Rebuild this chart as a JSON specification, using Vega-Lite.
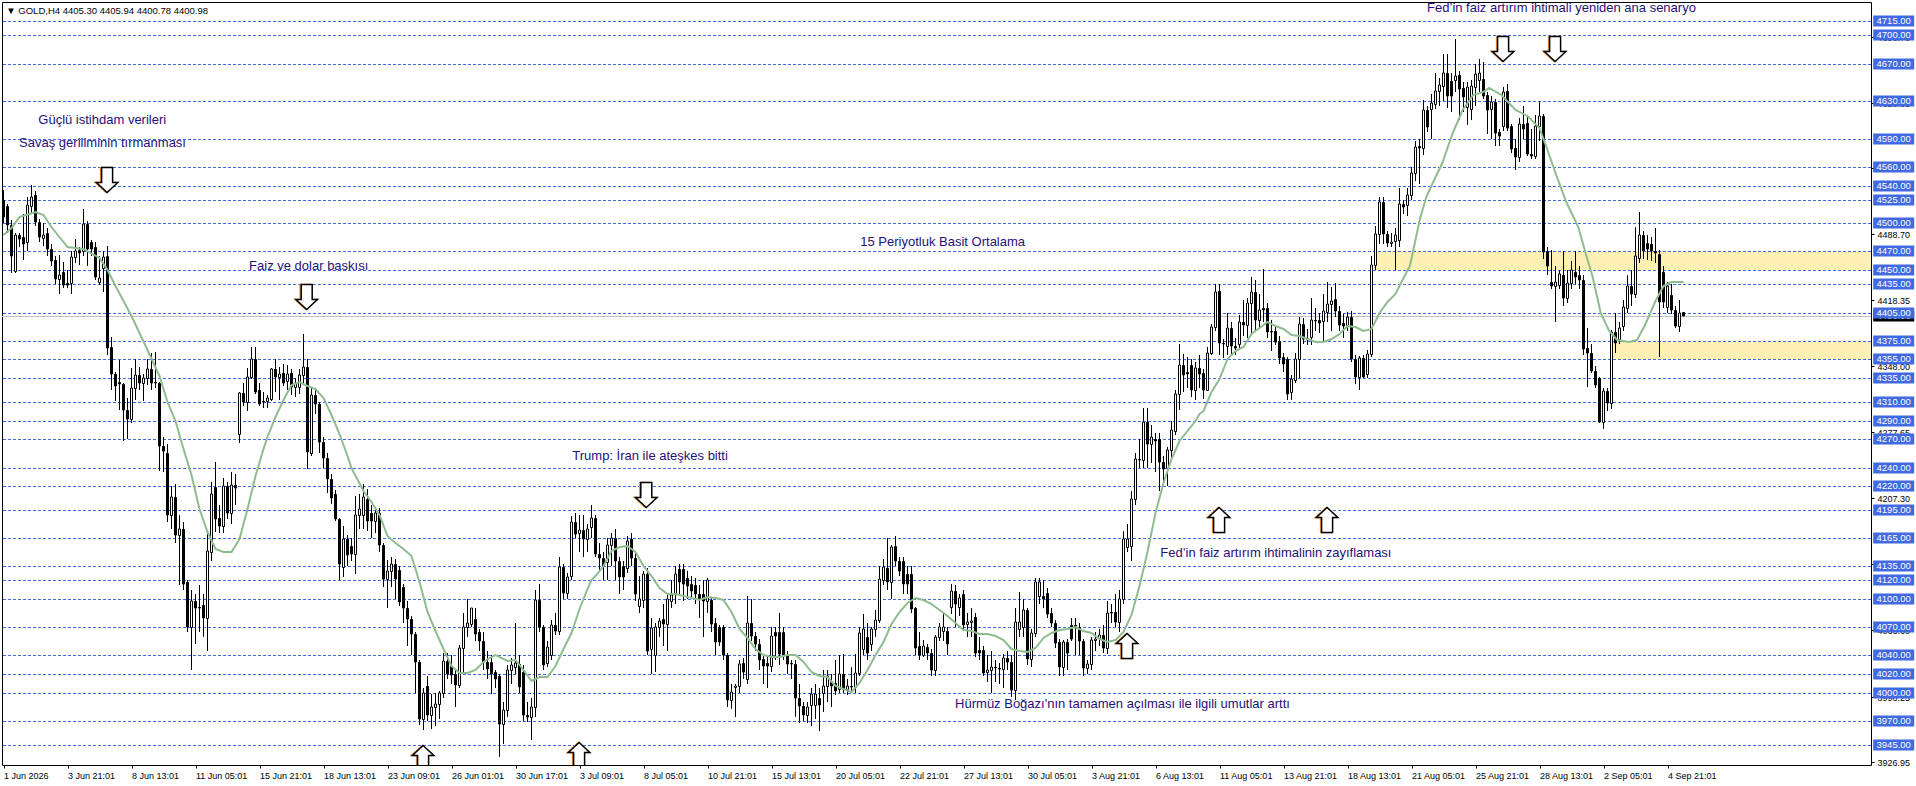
{
"$schema":"https://vega.github.io/schema/vega-lite/v6.json",
"description":"GOLD H4 candlestick chart with support and resistance levels and notes.",
"width":1869,"height":763,
"autosize":{"type":"none"},
"padding":{"left":2,"top":2,"right":45,"bottom":21},
"background":"#ffffff",
"config":{"view":{"stroke":"#000000","strokeWidth":1},"text":{"font":"Liberation Sans"}},
"datasets":{
"zones":[{"start":342.7,"low":4450,"high":4470},{"start":402.4,"low":4355,"high":4375}],
"levels":[{"v":4715},{"v":4700},{"v":4670},{"v":4630},{"v":4590},{"v":4560},{"v":4540},{"v":4525},{"v":4500},{"v":4470},{"v":4450},{"v":4435},{"v":4405},{"v":4375},{"v":4355},{"v":4335},{"v":4310},{"v":4290},{"v":4270},{"v":4240},{"v":4220},{"v":4195},{"v":4165},{"v":4135},{"v":4120},{"v":4100},{"v":4070},{"v":4040},{"v":4020},{"v":4000},{"v":3970},{"v":3945}],
"bid":[{"v":4400.98}],
"candles":[
{"i":0,"o":4525,"h":4535,"l":4500,"c":4507},{"i":1,"o":4518,"h":4520,"l":4490,"c":4498},{"i":2,"o":4498,"h":4503,"l":4447,"c":4465},{"i":3,"o":4449,"h":4490,"l":4447,"c":4488},{"i":4,"o":4487,"h":4490,"l":4475,"c":4483},{"i":5,"o":4485,"h":4510,"l":4461,"c":4478},{"i":6,"o":4480,"h":4528,"l":4470,"c":4519},{"i":7,"o":4518,"h":4541,"l":4510,"c":4528},{"i":8,"o":4530,"h":4534,"l":4497,"c":4501},{"i":9,"o":4501,"h":4505,"l":4480,"c":4485},
{"i":10,"o":4484,"h":4500,"l":4476,"c":4487},{"i":11,"o":4490,"h":4495,"l":4465,"c":4473},{"i":12,"o":4473,"h":4478,"l":4455,"c":4460},{"i":13,"o":4461,"h":4465,"l":4435,"c":4441},{"i":14,"o":4441,"h":4466,"l":4425,"c":4445},{"i":15,"o":4448,"h":4459,"l":4431,"c":4434},{"i":16,"o":4436,"h":4450,"l":4431,"c":4434},{"i":17,"o":4436,"h":4470,"l":4425,"c":4464},{"i":18,"o":4464,"h":4483,"l":4458,"c":4470},{"i":19,"o":4472,"h":4475,"l":4456,"c":4468},
{"i":20,"o":4470,"h":4515,"l":4465,"c":4499},{"i":21,"o":4499,"h":4502,"l":4455,"c":4473},{"i":22,"o":4480,"h":4482,"l":4465,"c":4473},{"i":23,"o":4475,"h":4480,"l":4440,"c":4443},{"i":24,"o":4437,"h":4465,"l":4434,"c":4442},{"i":25,"o":4452,"h":4470,"l":4427,"c":4464},{"i":26,"o":4465,"h":4476,"l":4360,"c":4367},{"i":27,"o":4368,"h":4379,"l":4322,"c":4340},{"i":28,"o":4340,"h":4342,"l":4311,"c":4327},{"i":29,"o":4331,"h":4354,"l":4301,"c":4329},
{"i":30,"o":4329,"h":4330,"l":4268,"c":4301},{"i":31,"o":4301,"h":4314,"l":4270,"c":4292},{"i":32,"o":4292,"h":4346,"l":4287,"c":4325},{"i":33,"o":4325,"h":4355,"l":4312,"c":4338},{"i":34,"o":4338,"h":4347,"l":4322,"c":4330},{"i":35,"o":4330,"h":4340,"l":4311,"c":4335},{"i":36,"o":4335,"h":4355,"l":4328,"c":4345},{"i":37,"o":4345,"h":4362,"l":4322,"c":4330},{"i":38,"o":4331,"h":4363,"l":4325,"c":4330},{"i":39,"o":4330,"h":4331,"l":4236,"c":4263},
{"i":40,"o":4263,"h":4273,"l":4235,"c":4258},{"i":41,"o":4256,"h":4265,"l":4182,"c":4189},{"i":42,"o":4189,"h":4220,"l":4175,"c":4209},{"i":43,"o":4209,"h":4222,"l":4160,"c":4168},{"i":44,"o":4168,"h":4190,"l":4115,"c":4175},{"i":45,"o":4175,"h":4182,"l":4110,"c":4116},{"i":46,"o":4118,"h":4120,"l":4065,"c":4070},{"i":47,"o":4070,"h":4110,"l":4024,"c":4098},{"i":48,"o":4098,"h":4105,"l":4052,"c":4091},{"i":49,"o":4092,"h":4115,"l":4065,"c":4091},
{"i":50,"o":4094,"h":4105,"l":4060,"c":4080},{"i":51,"o":4080,"h":4170,"l":4045,"c":4151},{"i":52,"o":4150,"h":4225,"l":4140,"c":4212},{"i":53,"o":4219,"h":4246,"l":4171,"c":4185},{"i":54,"o":4186,"h":4200,"l":4170,"c":4178},{"i":55,"o":4178,"h":4229,"l":4170,"c":4220},{"i":56,"o":4220,"h":4225,"l":4185,"c":4192},{"i":57,"o":4192,"h":4235,"l":4180,"c":4221},{"i":58,"o":4221,"h":4233,"l":4200,"c":4218},{"i":59,"o":4276,"h":4320,"l":4266,"c":4319},
{"i":60,"o":4319,"h":4330,"l":4306,"c":4310},{"i":61,"o":4310,"h":4346,"l":4300,"c":4336},{"i":62,"o":4336,"h":4368,"l":4334,"c":4356},{"i":63,"o":4356,"h":4368,"l":4318,"c":4320},{"i":64,"o":4322,"h":4330,"l":4305,"c":4308},{"i":65,"o":4311,"h":4320,"l":4303,"c":4310},{"i":66,"o":4311,"h":4317,"l":4303,"c":4314},{"i":67,"o":4313,"h":4346,"l":4311,"c":4345},{"i":68,"o":4345,"h":4356,"l":4320,"c":4336},{"i":69,"o":4336,"h":4347,"l":4312,"c":4340},
{"i":70,"o":4341,"h":4350,"l":4327,"c":4330},{"i":71,"o":4332,"h":4349,"l":4322,"c":4340},{"i":72,"o":4341,"h":4345,"l":4317,"c":4326},{"i":73,"o":4326,"h":4335,"l":4315,"c":4330},{"i":74,"o":4326,"h":4345,"l":4318,"c":4338},{"i":75,"o":4338,"h":4382,"l":4330,"c":4347},{"i":76,"o":4347,"h":4355,"l":4238,"c":4257},{"i":77,"o":4256,"h":4325,"l":4252,"c":4317},{"i":78,"o":4317,"h":4325,"l":4297,"c":4308},{"i":79,"o":4308,"h":4310,"l":4255,"c":4267},
{"i":80,"o":4267,"h":4272,"l":4240,"c":4250},{"i":81,"o":4250,"h":4255,"l":4213,"c":4228},{"i":82,"o":4228,"h":4233,"l":4201,"c":4208},{"i":83,"o":4212,"h":4216,"l":4183,"c":4185},{"i":84,"o":4185,"h":4186,"l":4120,"c":4137},{"i":85,"o":4134,"h":4178,"l":4124,"c":4164},{"i":86,"o":4164,"h":4168,"l":4135,"c":4147},{"i":87,"o":4156,"h":4165,"l":4140,"c":4148},{"i":88,"o":4148,"h":4210,"l":4127,"c":4189},{"i":89,"o":4189,"h":4212,"l":4175,"c":4196},
{"i":90,"o":4189,"h":4222,"l":4175,"c":4209},{"i":91,"o":4206,"h":4217,"l":4172,"c":4183},{"i":92,"o":4192,"h":4200,"l":4165,"c":4183},{"i":93,"o":4183,"h":4198,"l":4170,"c":4192},{"i":94,"o":4192,"h":4197,"l":4150,"c":4158},{"i":95,"o":4158,"h":4160,"l":4113,"c":4121},{"i":96,"o":4121,"h":4142,"l":4090,"c":4130},{"i":97,"o":4130,"h":4145,"l":4113,"c":4137},{"i":98,"o":4137,"h":4143,"l":4100,"c":4121},{"i":99,"o":4131,"h":4135,"l":4093,"c":4097},
{"i":100,"o":4113,"h":4116,"l":4075,"c":4091},{"i":101,"o":4091,"h":4098,"l":4050,"c":4079},{"i":102,"o":4079,"h":4082,"l":4040,"c":4063},{"i":103,"o":4063,"h":4065,"l":4000,"c":4033},{"i":104,"o":4033,"h":4035,"l":3966,"c":3972},{"i":105,"o":3972,"h":4005,"l":3961,"c":4000},{"i":106,"o":4007,"h":4018,"l":3970,"c":3977},{"i":107,"o":3977,"h":3999,"l":3962,"c":3985},{"i":108,"o":3985,"h":4000,"l":3965,"c":3988},{"i":109,"o":3988,"h":4002,"l":3972,"c":4000},
{"i":110,"o":4000,"h":4043,"l":3995,"c":4034},{"i":111,"o":4034,"h":4043,"l":4015,"c":4020},{"i":112,"o":4029,"h":4040,"l":4010,"c":4019},{"i":113,"o":4020,"h":4025,"l":3985,"c":4009},{"i":114,"o":4009,"h":4051,"l":4005,"c":4048},{"i":115,"o":4048,"h":4085,"l":4020,"c":4070},{"i":116,"o":4070,"h":4100,"l":4060,"c":4075},{"i":117,"o":4073,"h":4091,"l":4070,"c":4090},{"i":118,"o":4079,"h":4090,"l":4055,"c":4063},{"i":119,"o":4065,"h":4068,"l":4045,"c":4055},
{"i":120,"o":4055,"h":4065,"l":4025,"c":4033},{"i":121,"o":4033,"h":4045,"l":4015,"c":4026},{"i":122,"o":4033,"h":4040,"l":3999,"c":4020},{"i":123,"o":4022,"h":4025,"l":4005,"c":4015},{"i":124,"o":4018,"h":4020,"l":3932,"c":3967},{"i":125,"o":3967,"h":3990,"l":3946,"c":3982},{"i":126,"o":3982,"h":4030,"l":3975,"c":4024},{"i":127,"o":4024,"h":4037,"l":4010,"c":4030},{"i":128,"o":4028,"h":4075,"l":4020,"c":4032},{"i":129,"o":4031,"h":4040,"l":4000,"c":4006},
{"i":130,"o":4022,"h":4030,"l":3970,"c":3977},{"i":131,"o":3977,"h":3990,"l":3969,"c":3975},{"i":132,"o":3975,"h":3995,"l":3950,"c":3985},{"i":133,"o":3985,"h":4110,"l":3975,"c":4099},{"i":134,"o":4099,"h":4116,"l":4065,"c":4070},{"i":135,"o":4070,"h":4072,"l":4025,"c":4030},{"i":136,"o":4032,"h":4055,"l":4028,"c":4049},{"i":137,"o":4040,"h":4078,"l":4035,"c":4072},{"i":138,"o":4072,"h":4085,"l":4062,"c":4066},{"i":139,"o":4066,"h":4145,"l":4062,"c":4134},
{"i":140,"o":4134,"h":4137,"l":4100,"c":4107},{"i":141,"o":4107,"h":4128,"l":4100,"c":4124},{"i":142,"o":4125,"h":4188,"l":4120,"c":4182},{"i":143,"o":4182,"h":4192,"l":4165,"c":4169},{"i":144,"o":4170,"h":4190,"l":4150,"c":4173},{"i":145,"o":4173,"h":4190,"l":4145,"c":4164},{"i":146,"o":4164,"h":4180,"l":4150,"c":4175},{"i":147,"o":4177,"h":4200,"l":4165,"c":4186},{"i":148,"o":4186,"h":4190,"l":4145,"c":4148},{"i":149,"o":4148,"h":4160,"l":4130,"c":4144},
{"i":150,"o":4144,"h":4150,"l":4120,"c":4135},{"i":151,"o":4139,"h":4165,"l":4120,"c":4158},{"i":152,"o":4158,"h":4170,"l":4135,"c":4165},{"i":153,"o":4165,"h":4175,"l":4120,"c":4140},{"i":154,"o":4140,"h":4145,"l":4105,"c":4124},{"i":155,"o":4135,"h":4140,"l":4110,"c":4124},{"i":156,"o":4133,"h":4167,"l":4128,"c":4162},{"i":157,"o":4164,"h":4170,"l":4135,"c":4144},{"i":158,"o":4144,"h":4150,"l":4098,"c":4105},{"i":159,"o":4093,"h":4125,"l":4085,"c":4100},
{"i":160,"o":4099,"h":4130,"l":4090,"c":4127},{"i":161,"o":4127,"h":4133,"l":4040,"c":4045},{"i":162,"o":4047,"h":4080,"l":4020,"c":4069},{"i":163,"o":4040,"h":4075,"l":4022,"c":4070},{"i":164,"o":4070,"h":4080,"l":4060,"c":4077},{"i":165,"o":4079,"h":4095,"l":4050,"c":4074},{"i":166,"o":4074,"h":4105,"l":4045,"c":4100},{"i":167,"o":4098,"h":4120,"l":4090,"c":4104},{"i":168,"o":4105,"h":4135,"l":4095,"c":4127},{"i":169,"o":4132,"h":4137,"l":4105,"c":4118},
{"i":170,"o":4132,"h":4137,"l":4098,"c":4116},{"i":171,"o":4122,"h":4130,"l":4100,"c":4114},{"i":172,"o":4116,"h":4125,"l":4100,"c":4109},{"i":173,"o":4115,"h":4122,"l":4095,"c":4105},{"i":174,"o":4105,"h":4115,"l":4080,"c":4100},{"i":175,"o":4105,"h":4120,"l":4060,"c":4098},{"i":176,"o":4098,"h":4122,"l":4085,"c":4120},{"i":177,"o":4099,"h":4102,"l":4065,"c":4073},{"i":178,"o":4075,"h":4080,"l":4040,"c":4054},{"i":179,"o":4070,"h":4072,"l":4050,"c":4054},
{"i":180,"o":4070,"h":4072,"l":4035,"c":4041},{"i":181,"o":4041,"h":4043,"l":3985,"c":3993},{"i":182,"o":3993,"h":4010,"l":3983,"c":4001},{"i":183,"o":4006,"h":4010,"l":3975,"c":4007},{"i":184,"o":4007,"h":4035,"l":4000,"c":4031},{"i":185,"o":4032,"h":4037,"l":4015,"c":4022},{"i":186,"o":4015,"h":4103,"l":4010,"c":4075},{"i":187,"o":4075,"h":4100,"l":4055,"c":4061},{"i":188,"o":4061,"h":4065,"l":4045,"c":4052},{"i":189,"o":4052,"h":4058,"l":4025,"c":4035},
{"i":190,"o":4036,"h":4040,"l":4010,"c":4029},{"i":191,"o":4032,"h":4040,"l":4005,"c":4029},{"i":192,"o":4029,"h":4070,"l":4022,"c":4061},{"i":193,"o":4065,"h":4070,"l":4035,"c":4061},{"i":194,"o":4065,"h":4085,"l":4030,"c":4042},{"i":195,"o":4065,"h":4070,"l":4035,"c":4040},{"i":196,"o":4040,"h":4045,"l":4020,"c":4031},{"i":197,"o":4032,"h":4035,"l":4015,"c":4031},{"i":198,"o":4031,"h":4035,"l":3974,"c":3995},{"i":199,"o":3995,"h":4010,"l":3968,"c":3986},
{"i":200,"o":3986,"h":3990,"l":3970,"c":3977},{"i":201,"o":3977,"h":3990,"l":3968,"c":3985},{"i":202,"o":3987,"h":4005,"l":3965,"c":3999},{"i":203,"o":3987,"h":4010,"l":3972,"c":3999},{"i":204,"o":3995,"h":4005,"l":3960,"c":3987},{"i":205,"o":4000,"h":4025,"l":3980,"c":4008},{"i":206,"o":4008,"h":4025,"l":3990,"c":4018},{"i":207,"o":4012,"h":4020,"l":3985,"c":4008},{"i":208,"o":4011,"h":4035,"l":3998,"c":4002},{"i":209,"o":4004,"h":4040,"l":4000,"c":4020},
{"i":210,"o":4020,"h":4042,"l":4000,"c":4004},{"i":211,"o":4004,"h":4015,"l":3998,"c":4007},{"i":212,"o":4007,"h":4028,"l":4000,"c":4006},{"i":213,"o":4006,"h":4042,"l":4000,"c":4021},{"i":214,"o":4021,"h":4070,"l":4018,"c":4064},{"i":215,"o":4047,"h":4084,"l":4040,"c":4068},{"i":216,"o":4060,"h":4075,"l":4035,"c":4043},{"i":217,"o":4052,"h":4070,"l":4045,"c":4068},{"i":218,"o":4068,"h":4088,"l":4060,"c":4078},{"i":219,"o":4078,"h":4135,"l":4075,"c":4121},
{"i":220,"o":4120,"h":4143,"l":4115,"c":4134},{"i":221,"o":4133,"h":4165,"l":4110,"c":4118},{"i":222,"o":4118,"h":4158,"l":4100,"c":4155},{"i":223,"o":4156,"h":4167,"l":4135,"c":4141},{"i":224,"o":4141,"h":4145,"l":4125,"c":4130},{"i":225,"o":4140,"h":4145,"l":4105,"c":4116},{"i":226,"o":4127,"h":4135,"l":4105,"c":4116},{"i":227,"o":4127,"h":4135,"l":4085,"c":4089},{"i":228,"o":4090,"h":4092,"l":4040,"c":4048},{"i":229,"o":4050,"h":4065,"l":4035,"c":4041},
{"i":230,"o":4041,"h":4056,"l":4038,"c":4050},{"i":231,"o":4049,"h":4052,"l":4035,"c":4043},{"i":232,"o":4043,"h":4047,"l":4018,"c":4024},{"i":233,"o":4024,"h":4062,"l":4018,"c":4060},{"i":234,"o":4060,"h":4075,"l":4055,"c":4070},{"i":235,"o":4066,"h":4085,"l":4055,"c":4070},{"i":236,"o":4066,"h":4070,"l":4040,"c":4052},{"i":237,"o":4092,"h":4116,"l":4084,"c":4109},{"i":238,"o":4109,"h":4115,"l":4070,"c":4095},{"i":239,"o":4092,"h":4105,"l":4082,"c":4101},
{"i":240,"o":4105,"h":4110,"l":4068,"c":4072},{"i":241,"o":4073,"h":4085,"l":4060,"c":4076},{"i":242,"o":4076,"h":4090,"l":4060,"c":4077},{"i":243,"o":4081,"h":4085,"l":4038,"c":4043},{"i":244,"o":4046,"h":4060,"l":4035,"c":4043},{"i":245,"o":4046,"h":4050,"l":4018,"c":4021},{"i":246,"o":4022,"h":4040,"l":4012,"c":4025},{"i":247,"o":4024,"h":4045,"l":4000,"c":4028},{"i":248,"o":4028,"h":4035,"l":4012,"c":4027},{"i":249,"o":4027,"h":4032,"l":4010,"c":4026},
{"i":250,"o":4026,"h":4042,"l":4005,"c":4037},{"i":251,"o":4037,"h":4045,"l":4025,"c":4033},{"i":252,"o":4033,"h":4040,"l":3996,"c":4003},{"i":253,"o":4003,"h":4090,"l":3993,"c":4076},{"i":254,"o":4068,"h":4108,"l":4060,"c":4076},{"i":255,"o":4070,"h":4100,"l":4060,"c":4088},{"i":256,"o":4088,"h":4090,"l":4030,"c":4036},{"i":257,"o":4036,"h":4068,"l":4028,"c":4064},{"i":258,"o":4064,"h":4122,"l":4060,"c":4118},{"i":259,"o":4103,"h":4122,"l":4095,"c":4118},
{"i":260,"o":4103,"h":4120,"l":4090,"c":4100},{"i":261,"o":4106,"h":4112,"l":4080,"c":4084},{"i":262,"o":4085,"h":4090,"l":4070,"c":4075},{"i":263,"o":4075,"h":4078,"l":4048,"c":4053},{"i":264,"o":4054,"h":4058,"l":4018,"c":4028},{"i":265,"o":4028,"h":4056,"l":4018,"c":4054},{"i":266,"o":4054,"h":4057,"l":4025,"c":4043},{"i":267,"o":4072,"h":4080,"l":4055,"c":4058},{"i":268,"o":4072,"h":4080,"l":4040,"c":4070},{"i":269,"o":4070,"h":4075,"l":4040,"c":4055},
{"i":270,"o":4055,"h":4058,"l":4018,"c":4027},{"i":271,"o":4027,"h":4035,"l":4020,"c":4031},{"i":272,"o":4031,"h":4060,"l":4025,"c":4056},{"i":273,"o":4056,"h":4065,"l":4045,"c":4057},{"i":274,"o":4059,"h":4068,"l":4050,"c":4062},{"i":275,"o":4062,"h":4072,"l":4043,"c":4048},{"i":276,"o":4048,"h":4098,"l":4042,"c":4085},{"i":277,"o":4086,"h":4095,"l":4075,"c":4085},{"i":278,"o":4086,"h":4105,"l":4070,"c":4076},{"i":279,"o":4076,"h":4110,"l":4065,"c":4100},
{"i":280,"o":4100,"h":4172,"l":4095,"c":4164},{"i":281,"o":4155,"h":4180,"l":4150,"c":4164},{"i":282,"o":4156,"h":4215,"l":4140,"c":4206},{"i":283,"o":4206,"h":4255,"l":4200,"c":4249},{"i":284,"o":4249,"h":4270,"l":4240,"c":4248},{"i":285,"o":4248,"h":4303,"l":4240,"c":4288},{"i":286,"o":4288,"h":4303,"l":4240,"c":4265},{"i":287,"o":4265,"h":4285,"l":4245,"c":4273},{"i":288,"o":4270,"h":4277,"l":4235,"c":4268},{"i":289,"o":4270,"h":4277,"l":4215,"c":4246},
{"i":290,"o":4246,"h":4252,"l":4222,"c":4238},{"i":291,"o":4239,"h":4262,"l":4220,"c":4259},{"i":292,"o":4259,"h":4290,"l":4250,"c":4280},{"i":293,"o":4279,"h":4322,"l":4275,"c":4318},{"i":294,"o":4318,"h":4372,"l":4301,"c":4349},{"i":295,"o":4349,"h":4361,"l":4320,"c":4339},{"i":296,"o":4342,"h":4358,"l":4325,"c":4340},{"i":297,"o":4349,"h":4355,"l":4315,"c":4322},{"i":298,"o":4322,"h":4352,"l":4312,"c":4346},{"i":299,"o":4346,"h":4360,"l":4325,"c":4340},
{"i":300,"o":4341,"h":4345,"l":4313,"c":4323},{"i":301,"o":4323,"h":4368,"l":4322,"c":4362},{"i":302,"o":4362,"h":4393,"l":4360,"c":4390},{"i":303,"o":4390,"h":4435,"l":4385,"c":4427},{"i":304,"o":4428,"h":4435,"l":4360,"c":4373},{"i":305,"o":4373,"h":4377,"l":4357,"c":4372},{"i":306,"o":4369,"h":4405,"l":4360,"c":4389},{"i":307,"o":4389,"h":4395,"l":4360,"c":4369},{"i":308,"o":4369,"h":4378,"l":4360,"c":4367},{"i":309,"o":4371,"h":4402,"l":4365,"c":4395},
{"i":310,"o":4395,"h":4418,"l":4380,"c":4392},{"i":311,"o":4392,"h":4420,"l":4378,"c":4415},{"i":312,"o":4415,"h":4443,"l":4381,"c":4427},{"i":313,"o":4427,"h":4440,"l":4385,"c":4397},{"i":314,"o":4397,"h":4425,"l":4390,"c":4408},{"i":315,"o":4410,"h":4451,"l":4395,"c":4408},{"i":316,"o":4410,"h":4415,"l":4378,"c":4384},{"i":317,"o":4385,"h":4397,"l":4364,"c":4384},{"i":318,"o":4385,"h":4390,"l":4370,"c":4374},{"i":319,"o":4375,"h":4380,"l":4350,"c":4357},
{"i":320,"o":4358,"h":4362,"l":4342,"c":4350},{"i":321,"o":4355,"h":4358,"l":4312,"c":4318},{"i":322,"o":4320,"h":4338,"l":4312,"c":4334},{"i":323,"o":4333,"h":4362,"l":4330,"c":4356},{"i":324,"o":4356,"h":4400,"l":4335,"c":4393},{"i":325,"o":4393,"h":4399,"l":4372,"c":4377},{"i":326,"o":4378,"h":4387,"l":4370,"c":4376},{"i":327,"o":4379,"h":4420,"l":4370,"c":4397},{"i":328,"o":4397,"h":4410,"l":4385,"c":4396},{"i":329,"o":4397,"h":4404,"l":4383,"c":4394},
{"i":330,"o":4396,"h":4425,"l":4375,"c":4407},{"i":331,"o":4406,"h":4437,"l":4395,"c":4414},{"i":332,"o":4414,"h":4432,"l":4385,"c":4417},{"i":333,"o":4419,"h":4436,"l":4400,"c":4407},{"i":334,"o":4407,"h":4412,"l":4385,"c":4392},{"i":335,"o":4394,"h":4403,"l":4378,"c":4391},{"i":336,"o":4392,"h":4406,"l":4385,"c":4400},{"i":337,"o":4400,"h":4407,"l":4352,"c":4356},{"i":338,"o":4356,"h":4360,"l":4329,"c":4336},{"i":339,"o":4336,"h":4359,"l":4323,"c":4357},
{"i":340,"o":4357,"h":4360,"l":4335,"c":4336},{"i":341,"o":4340,"h":4365,"l":4335,"c":4361},{"i":342,"o":4361,"h":4465,"l":4358,"c":4456},{"i":343,"o":4456,"h":4497,"l":4450,"c":4489},{"i":344,"o":4489,"h":4528,"l":4478,"c":4523},{"i":345,"o":4523,"h":4528,"l":4478,"c":4489},{"i":346,"o":4489,"h":4492,"l":4475,"c":4479},{"i":347,"o":4479,"h":4490,"l":4475,"c":4480},{"i":348,"o":4481,"h":4495,"l":4450,"c":4488},{"i":349,"o":4482,"h":4537,"l":4475,"c":4520},
{"i":350,"o":4520,"h":4525,"l":4510,"c":4517},{"i":351,"o":4519,"h":4538,"l":4508,"c":4530},{"i":352,"o":4530,"h":4560,"l":4525,"c":4554},{"i":353,"o":4553,"h":4588,"l":4545,"c":4581},{"i":354,"o":4582,"h":4590,"l":4542,"c":4580},{"i":355,"o":4580,"h":4631,"l":4573,"c":4621},{"i":356,"o":4621,"h":4625,"l":4597,"c":4602},{"i":357,"o":4622,"h":4638,"l":4590,"c":4628},{"i":358,"o":4627,"h":4660,"l":4622,"c":4641},{"i":359,"o":4641,"h":4655,"l":4625,"c":4647},
{"i":360,"o":4646,"h":4680,"l":4630,"c":4660},{"i":361,"o":4660,"h":4680,"l":4623,"c":4635},{"i":362,"o":4651,"h":4660,"l":4618,"c":4635},{"i":363,"o":4653,"h":4696,"l":4640,"c":4657},{"i":364,"o":4658,"h":4662,"l":4610,"c":4643},{"i":365,"o":4644,"h":4650,"l":4618,"c":4634},{"i":366,"o":4624,"h":4650,"l":4605,"c":4645},{"i":367,"o":4622,"h":4652,"l":4610,"c":4646},{"i":368,"o":4645,"h":4670,"l":4625,"c":4659},{"i":369,"o":4653,"h":4675,"l":4640,"c":4660},
{"i":370,"o":4654,"h":4672,"l":4632,"c":4635},{"i":371,"o":4637,"h":4640,"l":4595,"c":4621},{"i":372,"o":4622,"h":4635,"l":4590,"c":4629},{"i":373,"o":4629,"h":4632,"l":4582,"c":4596},{"i":374,"o":4597,"h":4600,"l":4582,"c":4593},{"i":375,"o":4603,"h":4645,"l":4598,"c":4640},{"i":376,"o":4641,"h":4648,"l":4598,"c":4601},{"i":377,"o":4603,"h":4606,"l":4575,"c":4579},{"i":378,"o":4580,"h":4590,"l":4557,"c":4570},{"i":379,"o":4570,"h":4612,"l":4565,"c":4606},
{"i":380,"o":4606,"h":4625,"l":4590,"c":4600},{"i":381,"o":4607,"h":4614,"l":4572,"c":4574},{"i":382,"o":4574,"h":4600,"l":4568,"c":4572},{"i":383,"o":4572,"h":4615,"l":4568,"c":4603},{"i":384,"o":4603,"h":4630,"l":4588,"c":4614},{"i":385,"o":4614,"h":4616,"l":4462,"c":4469},{"i":386,"o":4470,"h":4475,"l":4445,"c":4454},{"i":387,"o":4438,"h":4472,"l":4430,"c":4433},{"i":388,"o":4433,"h":4455,"l":4395,"c":4437},{"i":389,"o":4434,"h":4450,"l":4430,"c":4446},
{"i":390,"o":4445,"h":4470,"l":4412,"c":4420},{"i":391,"o":4420,"h":4450,"l":4415,"c":4436},{"i":392,"o":4436,"h":4460,"l":4430,"c":4450},{"i":393,"o":4448,"h":4470,"l":4435,"c":4443},{"i":394,"o":4445,"h":4455,"l":4430,"c":4440},{"i":395,"o":4440,"h":4445,"l":4360,"c":4366},{"i":396,"o":4367,"h":4388,"l":4326,"c":4362},{"i":397,"o":4362,"h":4372,"l":4341,"c":4343},{"i":398,"o":4343,"h":4348,"l":4325,"c":4328},{"i":399,"o":4335,"h":4336,"l":4287,"c":4289},
{"i":400,"o":4289,"h":4325,"l":4281,"c":4321},{"i":401,"o":4321,"h":4325,"l":4300,"c":4309},{"i":402,"o":4309,"h":4386,"l":4302,"c":4384},{"i":403,"o":4384,"h":4405,"l":4362,"c":4373},{"i":404,"o":4377,"h":4395,"l":4372,"c":4388},{"i":405,"o":4391,"h":4418,"l":4385,"c":4411},{"i":406,"o":4410,"h":4445,"l":4405,"c":4433},{"i":407,"o":4433,"h":4450,"l":4412,"c":4425},{"i":408,"o":4425,"h":4496,"l":4420,"c":4465},{"i":409,"o":4463,"h":4512,"l":4458,"c":4488},
{"i":410,"o":4488,"h":4492,"l":4462,"c":4470},{"i":411,"o":4479,"h":4487,"l":4461,"c":4473},{"i":412,"o":4478,"h":4485,"l":4460,"c":4470},{"i":413,"o":4470,"h":4495,"l":4458,"c":4468},{"i":414,"o":4467,"h":4472,"l":4358,"c":4416},{"i":415,"o":4448,"h":4455,"l":4410,"c":4416},{"i":416,"o":4411,"h":4437,"l":4405,"c":4433},{"i":417,"o":4424,"h":4435,"l":4403,"c":4408},{"i":418,"o":4408,"h":4412,"l":4389,"c":4391},{"i":419,"o":4391,"h":4418,"l":4384,"c":4405},{"i":420,"o":4405.3,"h":4405.94,"l":4400.78,"c":4400.98}
],
"sma":[{"i":0,"v":4488},{"i":2,"v":4495},{"i":4,"v":4507},{"i":8,"v":4512},{"i":10,"v":4509},{"i":12,"v":4496},{"i":16,"v":4475},{"i":20,"v":4473},{"i":24,"v":4463},{"i":26,"v":4450},{"i":28,"v":4433},{"i":32,"v":4401},{"i":36,"v":4365},{"i":39,"v":4337},{"i":41,"v":4310},{"i":43,"v":4290},{"i":45,"v":4260},{"i":47,"v":4232},{"i":49,"v":4196},{"i":51,"v":4171},{"i":53,"v":4153},{"i":55,"v":4150},{"i":57,"v":4150},{"i":59,"v":4164},{"i":61,"v":4196},{"i":63,"v":4231},{"i":65,"v":4260},{"i":66,"v":4273},{"i":68,"v":4294},{"i":70,"v":4312},{"i":72,"v":4328},{"i":74,"v":4331},{"i":76,"v":4327},{"i":78,"v":4324},{"i":80,"v":4314},{"i":82,"v":4296},{"i":84,"v":4276},{"i":86,"v":4252},{"i":87,"v":4239},{"i":90,"v":4215},{"i":92,"v":4203},{"i":94,"v":4189},{"i":96,"v":4167},{"i":98,"v":4160},{"i":100,"v":4153},{"i":102,"v":4146},{"i":104,"v":4118},{"i":106,"v":4086},{"i":108,"v":4066},{"i":110,"v":4047},{"i":112,"v":4029},{"i":114,"v":4021},{"i":116,"v":4021},{"i":118,"v":4024},{"i":120,"v":4033},{"i":122,"v":4038},{"i":123,"v":4040},{"i":126,"v":4034},{"i":128,"v":4035},{"i":130,"v":4025},{"i":132,"v":4013},{"i":134,"v":4017},{"i":136,"v":4017},{"i":138,"v":4029},{"i":140,"v":4047},{"i":142,"v":4064},{"i":144,"v":4089},{"i":146,"v":4111},{"i":147,"v":4120},{"i":148,"v":4125},{"i":150,"v":4135},{"i":152,"v":4151},{"i":154,"v":4155},{"i":156,"v":4157},{"i":158,"v":4150},{"i":160,"v":4135},{"i":162,"v":4125},{"i":164,"v":4112},{"i":166,"v":4105},{"i":168,"v":4105},{"i":170,"v":4103},{"i":172,"v":4101},{"i":174,"v":4099},{"i":176,"v":4102},{"i":178,"v":4101},{"i":180,"v":4099},{"i":182,"v":4086},{"i":184,"v":4068},{"i":186,"v":4059},{"i":188,"v":4047},{"i":190,"v":4040},{"i":192,"v":4038},{"i":194,"v":4038},{"i":196,"v":4041},{"i":198,"v":4041},{"i":200,"v":4033},{"i":202,"v":4022},{"i":204,"v":4018},{"i":206,"v":4017},{"i":208,"v":4008},{"i":210,"v":4004},{"i":212,"v":4001},{"i":214,"v":4011},{"i":216,"v":4024},{"i":218,"v":4040},{"i":220,"v":4054},{"i":222,"v":4073},{"i":224,"v":4086},{"i":226,"v":4096},{"i":228,"v":4101},{"i":230,"v":4099},{"i":232,"v":4095},{"i":234,"v":4088},{"i":236,"v":4082},{"i":238,"v":4075},{"i":240,"v":4067},{"i":242,"v":4066},{"i":244,"v":4063},{"i":246,"v":4063},{"i":248,"v":4061},{"i":250,"v":4056},{"i":252,"v":4047},{"i":254,"v":4045},{"i":256,"v":4044},{"i":258,"v":4048},{"i":260,"v":4059},{"i":262,"v":4064},{"i":264,"v":4067},{"i":266,"v":4068},{"i":268,"v":4070},{"i":270,"v":4066},{"i":272,"v":4064},{"i":274,"v":4058},{"i":276,"v":4054},{"i":278,"v":4056},{"i":280,"v":4065},{"i":282,"v":4083},{"i":284,"v":4114},{"i":286,"v":4150},{"i":288,"v":4192},{"i":290,"v":4224},{"i":292,"v":4249},{"i":294,"v":4268},{"i":296,"v":4279},{"i":298,"v":4290},{"i":299,"v":4297},{"i":300,"v":4300},{"i":302,"v":4320},{"i":304,"v":4334},{"i":306,"v":4355},{"i":308,"v":4364},{"i":310,"v":4368},{"i":312,"v":4382},{"i":314,"v":4389},{"i":316,"v":4395},{"i":318,"v":4391},{"i":320,"v":4387},{"i":322,"v":4381},{"i":324,"v":4380},{"i":326,"v":4377},{"i":328,"v":4374},{"i":330,"v":4374},{"i":332,"v":4377},{"i":334,"v":4382},{"i":336,"v":4391},{"i":338,"v":4390},{"i":340,"v":4385},{"i":342,"v":4387},{"i":344,"v":4405},{"i":346,"v":4416},{"i":348,"v":4425},{"i":350,"v":4442},{"i":351.6,"v":4454},{"i":354.1,"v":4505},{"i":355.7,"v":4528},{"i":357.2,"v":4542},{"i":359.7,"v":4564},{"i":362.3,"v":4596},{"i":364.8,"v":4621},{"i":367.4,"v":4637},{"i":369.9,"v":4640},{"i":371.4,"v":4644},{"i":374.5,"v":4637},{"i":378,"v":4621},{"i":381,"v":4614},{"i":384,"v":4601},{"i":386,"v":4578},{"i":388,"v":4553},{"i":390.7,"v":4523},{"i":393.7,"v":4496},{"i":395.8,"v":4464},{"i":397.3,"v":4443},{"i":399.3,"v":4404},{"i":401.3,"v":4386},{"i":403.4,"v":4376},{"i":406.4,"v":4374},{"i":408.4,"v":4376},{"i":410.5,"v":4393},{"i":413,"v":4417},{"i":415,"v":4433},{"i":417,"v":4437},{"i":420,"v":4437}],
"downArrows":[{"i":25.9,"v":4546.2},{"i":75.8,"v":4421.5},{"i":160.7,"v":4210.8},{"i":374.9,"v":4685.5},{"i":387.9,"v":4685.5}],
"upArrows":[{"i":104.9,"v":3931.1},{"i":143.9,"v":3934.3},{"i":280.9,"v":4050.3},{"i":303.9,"v":4183.7},{"i":330.9,"v":4183.7}],
"notes":[
{"text":"Güçlü istihdam verileri","i":8.7,"v":4610},
{"text":"Savaş geriliminin tırmanması","i":3.9,"v":4585.5},
{"text":"Faiz ve dolar baskısı","i":61.4,"v":4454.5},
{"text":"15 Periyotluk Basit Ortalama","i":214.2,"v":4480.4},
{"text":"Trump: İran ile ateşkes bitti","i":142.2,"v":4252.3},
{"text":"Hürmüz Boğazı'nın tamamen açılması ile ilgili umutlar arttı","i":237.9,"v":3988.3},
{"text":"Fed’in faiz artırım ihtimalinin zayıflaması","i":289.2,"v":4149.1},
{"text":"Fed’in faiz artırım ihtimali yeniden ana senaryo","i":355.9,"v":4729.2}
],
"header":[{"text":"▼ GOLD,H4  4405.30 4405.94 4400.78 4400.98","i":0.7,"v":4726.3}]
},
"layer":[
{"data":{"name":"zones"},"mark":{"type":"rect","color":"#fdf0b2"},
"encoding":{
"x":{"field":"start","type":"quantitative","scale":{"domain":[-0.375,466.875],"nice":false,"zero":false,"padding":0},
"axis":{"title":null,"grid":false,"domain":false,"values":[0,16,32,48,64,80,96,112,128,144,160,176,192,208,224,240,256,272,288,304,320,336,352,368,384,400,416],"tickColor":"#000000","tickSize":3,"labelAlign":"left","labelFont":"Liberation Sans","labelFontSize":9,"labelColor":"#000000","labelPadding":3,"labelOverlap":false,"labelFlush":false,"labelBound":false,
"labelExpr":"['1 Jun 2026','3 Jun 21:01','8 Jun 13:01','11 Jun 05:01','15 Jun 21:01','18 Jun 13:01','23 Jun 09:01','26 Jun 01:01','30 Jun 17:01','3 Jul 09:01','8 Jul 05:01','10 Jul 21:01','15 Jul 13:01','20 Jul 05:01','22 Jul 21:01','27 Jul 13:01','30 Jul 05:01','3 Aug 21:01','6 Aug 13:01','11 Aug 05:01','13 Aug 21:01','18 Aug 13:01','21 Aug 05:01','25 Aug 21:01','28 Aug 13:01','2 Sep 05:01','4 Sep 21:01'][datum.value/16]"}},
"x2":{"datum":466.875},
"y":{"field":"low","type":"quantitative","scale":{"domain":[3923.4,4735.5],"nice":false,"zero":false,"padding":0,"round":true},
"axis":{"orient":"right","title":null,"grid":false,"domain":false,"values":[3926.95,3961.6,3996.25,4031.95,4066.6,4102.3,4136.95,4172.65,4207.3,4242.95,4277.65,4312.3,4348,4383.7,4418.35,4454,4488.7,4523.35,4559,4593.7,4628.35,4664.05,4698.7],"format":".2f","tickColor":"#000000","tickSize":3,"labelFont":"Liberation Sans","labelFontSize":9,"labelColor":"#000000","labelPadding":3,"labelOverlap":false,"labelBound":false,"labelFlush":false}},
"y2":{"field":"high"}}},
{"data":{"name":"levels"},"mark":{"type":"rule","color":"#4169e1","strokeWidth":1,"strokeDash":[3,2],"yOffset":0.5},
"encoding":{"y":{"field":"v","type":"quantitative"}}},
{"data":{"name":"bid"},"mark":{"type":"rule","color":"#c0c0c0","strokeWidth":1,"yOffset":0.5},
"encoding":{"y":{"field":"v","type":"quantitative"}}},
{"data":{"name":"candles"},"mark":{"type":"rule","color":"#000000","strokeWidth":1},
"encoding":{"x":{"field":"i","type":"quantitative"},"y":{"field":"l","type":"quantitative"},"y2":{"field":"h"}}},
{"data":{"name":"candles"},"mark":{"type":"bar","size":2,"stroke":"#000000","strokeWidth":1,"yOffset":0.5},
"encoding":{"x":{"field":"i","type":"quantitative"},"y":{"field":"o","type":"quantitative"},"y2":{"field":"c"},
"fill":{"condition":{"test":"datum.c>=datum.o","value":"#ffffff"},"value":"#000000"}}},
{"data":{"name":"sma"},"mark":{"type":"line","color":"#8fbc8f","strokeWidth":2},
"encoding":{"x":{"field":"i","type":"quantitative"},"y":{"field":"v","type":"quantitative"}}},
{"data":{"name":"downArrows"},"mark":{"type":"point","clip":true,"filled":false,"stroke":"#e8913a","strokeWidth":1.5,"opacity":1,"size":625,"xOffset":-1,"shape":"M-.44,-1L.44,-1L.44,.2L.86,.2L0,1L-.86,.2L-.44,.2Z"},
"encoding":{"x":{"field":"i","type":"quantitative"},"y":{"field":"v","type":"quantitative"}}},
{"data":{"name":"upArrows"},"mark":{"type":"point","clip":true,"filled":false,"stroke":"#e8913a","strokeWidth":1.5,"opacity":1,"size":625,"xOffset":-1,"shape":"M-.44,1L.44,1L.44,-.2L.86,-.2L0,-1L-.86,-.2L-.44,-.2Z"},
"encoding":{"x":{"field":"i","type":"quantitative"},"y":{"field":"v","type":"quantitative"}}},
{"data":{"name":"downArrows"},"mark":{"type":"point","clip":true,"filled":true,"fill":"#ffffff","stroke":"#000000","strokeWidth":1.5,"opacity":1,"size":625,"shape":"M-.44,-1L.44,-1L.44,.2L.86,.2L0,1L-.86,.2L-.44,.2Z"},
"encoding":{"x":{"field":"i","type":"quantitative"},"y":{"field":"v","type":"quantitative"}}},
{"data":{"name":"upArrows"},"mark":{"type":"point","clip":true,"filled":true,"fill":"#ffffff","stroke":"#000000","strokeWidth":1.5,"opacity":1,"size":625,"shape":"M-.44,1L.44,1L.44,-.2L.86,-.2L0,-1L-.86,-.2L-.44,-.2Z"},
"encoding":{"x":{"field":"i","type":"quantitative"},"y":{"field":"v","type":"quantitative"}}},
{"data":{"name":"notes"},"mark":{"type":"text","align":"left","baseline":"middle","font":"Liberation Sans","fontSize":13,"color":"#26107a"},
"encoding":{"x":{"field":"i","type":"quantitative"},"y":{"field":"v","type":"quantitative"},"text":{"field":"text"}}},
{"data":{"name":"header"},"mark":{"type":"text","align":"left","baseline":"middle","font":"Liberation Sans","fontSize":9.5,"color":"#000000"},
"encoding":{"x":{"field":"i","type":"quantitative"},"y":{"field":"v","type":"quantitative"},"text":{"field":"text"}}},
{"data":{"name":"bid"},"mark":{"type":"tick","orient":"horizontal","color":"#000000","size":41,"thickness":11,"opacity":1},
"encoding":{"x":{"datum":472.55},"y":{"field":"v","type":"quantitative"}}},
{"data":{"name":"bid"},"mark":{"type":"text","align":"center","baseline":"middle","font":"Liberation Sans","fontSize":9.5,"color":"#ffffff"},
"encoding":{"x":{"datum":472.55},"y":{"field":"v","type":"quantitative"},"text":{"field":"v","format":".2f"}}},
{"data":{"name":"levels"},"mark":{"type":"tick","orient":"horizontal","color":"#4169e1","size":41,"thickness":11,"opacity":1},
"encoding":{"x":{"datum":472.55},"y":{"field":"v","type":"quantitative"}}},
{"data":{"name":"levels"},"mark":{"type":"text","align":"center","baseline":"middle","font":"Liberation Sans","fontSize":9.5,"color":"#ffffff"},
"encoding":{"x":{"datum":472.55},"y":{"field":"v","type":"quantitative"},"text":{"field":"v","format":".2f"}}}
]
}
